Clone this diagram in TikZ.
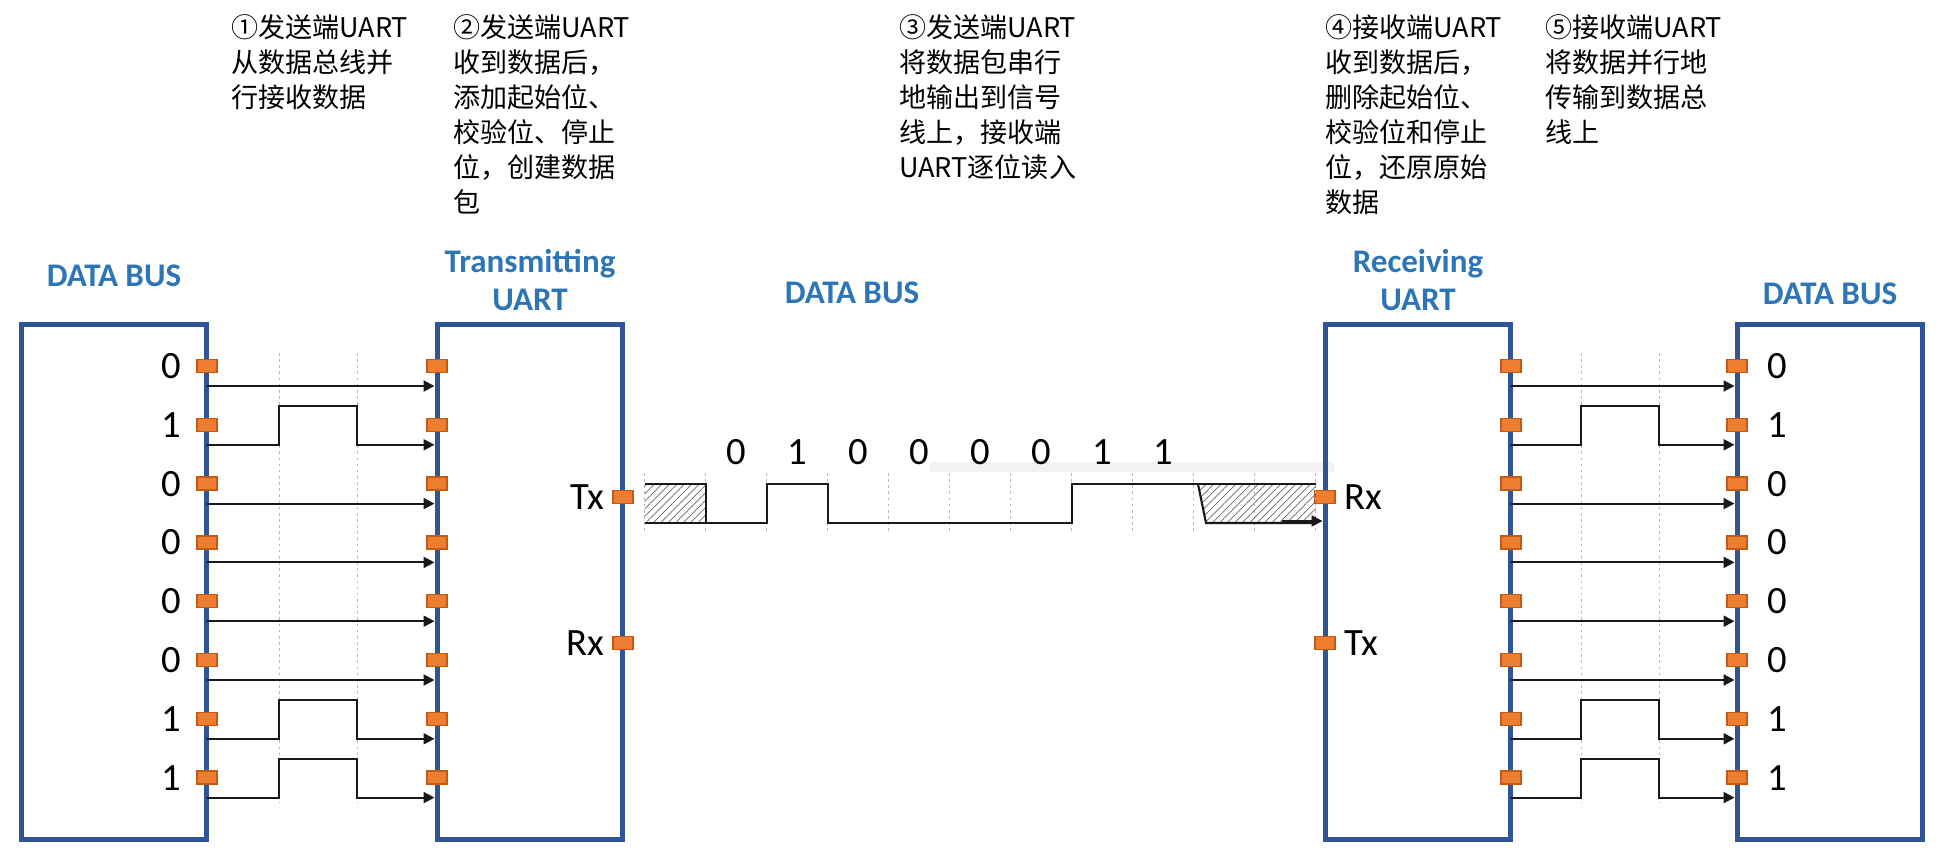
\documentclass[tikz,border=0pt]{standalone}
\usepackage{fontspec}
\setmainfont{Carlito}
\newfontfamily\cjk{Noto Sans CJK SC}
\usetikzlibrary{arrows.meta,patterns.meta,positioning}

\definecolor{boxblue}{HTML}{2F5597}
\definecolor{titleblue}{HTML}{2E75B6}
\definecolor{portfill}{HTML}{ED7D31}
\definecolor{portline}{HTML}{C55A11}

\tikzset{
  busbox/.style={draw=boxblue, line width=0.1cm, minimum width=3.72cm,
    minimum height=10.32cm, inner sep=0, outer sep=0},
  portbox/.style={draw=portline, fill=portfill, line width=0.8pt,
    minimum width=0.4cm, minimum height=0.26cm, inner sep=0},
  bustitle/.style={text=titleblue, font=\bfseries\fontsize{18.8}{21.6}\selectfont,
    align=center, inner sep=0},
  bitlabel/.style={font=\fontsize{22}{24}\selectfont, inner sep=0},
  stepnote/.style={font=\cjk\fontsize{15.4}{19.9}\selectfont, align=left,
    anchor=north west, inner sep=0},
  wave/.style={line width=1.2pt, black!90},
  guide/.style={gray!55, line width=0.5pt, dash pattern=on 1.5pt off 2pt},
  hatch/.style={pattern={Lines[angle=45,distance=3pt,line width=0.4pt]},
    pattern color=black!60},
}

\begin{document}
\begin{tikzpicture}[x=0.02cm,y=-0.02cm,>={Triangle[length=0.22cm,width=0.22cm]}]
  \useasboundingbox (0,0) rectangle (1945,848);

  % faint strip behind the serial bits
  \fill[black!5] (930,462) rectangle (1334,472);

  % the four blocks
  \node[busbox] (busL) at (114,582) {};
  \node[busbox] (txU)  at (530,582) {};
  \node[busbox] (rxU)  at (1418,582) {};
  \node[busbox] (busR) at (1830,582) {};

  % block titles
  \node[bustitle, above=0.74cm of busL] (tBusL) {DATA BUS};
  \node[bustitle, above=0.26cm of txU]  (tTx)   {Transmitting\\UART};
  \node[bustitle] (tMid) at (852,293) {DATA BUS};
  \node[bustitle, above=0.26cm of rxU]  (tRx)   {Receiving\\UART};
  \node[bustitle, above=0.38cm of busR] (tBusR) {DATA BUS};

  % step notes along the top
  \node[stepnote] (s1) at (231,14)  {①发送端UART\\从数据总线并\\行接收数据};
  \node[stepnote] (s2) at (453,14)  {②发送端UART\\收到数据后，\\添加起始位、\\校验位、停止\\位，创建数据\\包};
  \node[stepnote] (s3) at (899,14)  {③发送端UART\\将数据包串行\\地输出到信号\\线上，接收端\\UART逐位读入};
  \node[stepnote] (s4) at (1325,14) {④接收端UART\\收到数据后，\\删除起始位、\\校验位和停止\\位，还原原始\\数据};
  \node[stepnote] (s5) at (1545,14) {⑤接收端UART\\将数据并行地\\传输到数据总\\线上};

  % dotted time marks of the parallel transfers
  \foreach \x in {279,357,1581,1659}
    \draw[guide] (\x,353) -- (\x,803);

  % eight parallel lines on each side
  \foreach \b [count=\i, evaluate=\i as \py using 366+58.8*(\i-1),
               evaluate=\i as \wy using 386+58.8*(\i-1),
               evaluate=\b as \h using 39*\b] in {0,1,0,0,0,0,1,1} {
    \node[portbox] (pL\i) at (busL.east |- 0,\py) {};
    \node[portbox] (pT\i) at (txU.west |- 0,\py) {};
    \node[portbox] (pR\i) at (rxU.east |- 0,\py) {};
    \node[portbox] (pB\i) at (busR.west |- 0,\py) {};
    \node[bitlabel, left=0.3cm of pL\i]  {\b};
    \node[bitlabel, right=0.38cm of pB\i] {\b};
    \draw[wave, ->, shorten >=0.05cm] (busL.east |- 0,\wy) -- (279,\wy) -- (279,\wy-\h)
      -- (357,\wy-\h) -- (357,\wy) -- (txU.west |- 0,\wy);
    \draw[wave, ->, shorten >=0.05cm] (rxU.east |- 0,\wy) -- (1581,\wy) -- (1581,\wy-\h)
      -- (1659,\wy-\h) -- (1659,\wy) -- (busR.west |- 0,\wy);
  }

  % serial pins
  \node[portbox] (txTx) at (txU.east |- 0,497) {};
  \node[portbox] (txRx) at (txU.east |- 0,643) {};
  \node[portbox] (rxRx) at (rxU.west |- 0,497) {};
  \node[portbox] (rxTx) at (rxU.west |- 0,643) {};
  \node[bitlabel, left=0.16cm of txTx]  {Tx};
  \node[bitlabel, left=0.16cm of txRx]  {Rx};
  \node[bitlabel, right=0.16cm of rxRx] {Rx};
  \node[bitlabel, right=0.16cm of rxTx] {Tx};

  % serial frame on the line, one bit = 61 units
  \foreach \k in {0,...,11}
    \draw[guide] (644.5+61*\k,473) -- (644.5+61*\k,532);
  \fill[hatch] (644.5,484) rectangle (706,523);
  \fill[hatch] (1198,484) -- (1316,484) -- (1316,523) -- (1206,523) -- cycle;
  \draw[wave] (644.5,484) -- (706,484) -- (706,523) -- (767,523) -- (767,484)
    -- (828,484) -- (828,523) -- (1072,523) -- (1072,484) -- (1316,484);
  \draw[wave] (644.5,523) -- (706,523);
  \draw[wave] (1198,484) -- (1206,523) -- (1316,523);
  \draw[wave, ->, shorten >=0.05cm] (1282,521) -- (rxU.west |- 0,521);
  \foreach \b [count=\k] in {0,1,0,0,0,0,1,1}
    \node[bitlabel] (d\k) at (675.5+61*\k,452) {\b};

\end{tikzpicture}
\end{document}
